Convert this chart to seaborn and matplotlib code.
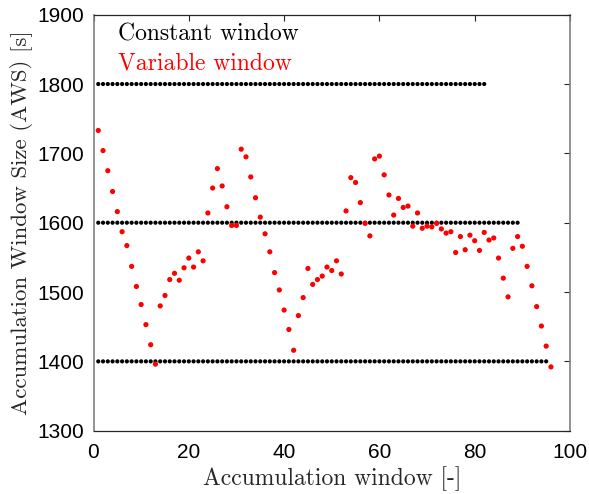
import numpy as np
import pandas as pd
import matplotlib
matplotlib.use("Agg")
import matplotlib.pyplot as plt
import seaborn as sns

# ---- data ----
const_levels = [1800, 1600, 1400]
const_lengths = [82, 89, 95]
variable_values = [
    1733, 1704, 1675, 1645, 1616, 1587, 1567, 1537, 1508, 1482,
    1453, 1424, 1396, 1480, 1495, 1518, 1527, 1517, 1535, 1549,
    1536, 1558, 1545, 1614, 1650, 1678, 1653, 1623, 1596, 1596,
    1706, 1695, 1666, 1636, 1608, 1584, 1558, 1528, 1503, 1474,
    1446, 1416, 1466, 1492, 1534, 1511, 1518, 1523, 1536, 1531,
    1545, 1526, 1617, 1665, 1658, 1629, 1599, 1581, 1692, 1696,
    1669, 1640, 1611, 1635, 1622, 1624, 1595, 1614, 1592, 1595,
    1594, 1599, 1591, 1585, 1587, 1557, 1580, 1561, 1582, 1574,
    1560, 1586, 1575, 1578, 1549, 1520, 1493, 1563, 1580, 1566,
    1537, 1509, 1479, 1451, 1422, 1392,
]
x_ticks = [0, 20, 40, 60, 80, 100]
y_ticks = [1300, 1400, 1500, 1600, 1700, 1800, 1900]

rows = []
for lvl, n in zip(const_levels, const_lengths):
    for i in range(1, n + 1):
        rows.append({"x": i, "y": lvl, "kind": "Constant"})
const_df = pd.DataFrame(rows)
var_df = pd.DataFrame({"x": np.arange(1, len(variable_values) + 1),
                       "y": variable_values, "kind": "Variable"})

sns.set_style("white")
plt.rcParams["font.family"] = ["Liberation Sans", "DejaVu Sans"]

fig = plt.figure(figsize=(5.89, 4.94), dpi=100)
ax = fig.add_axes([93.5 / 589, 1 - 430.7 / 494, 476.5 / 589, 416 / 494])

sns.scatterplot(data=const_df, x="x", y="y", color="black", s=9,
                edgecolor="none", linewidth=0, ax=ax, legend=False)
sns.scatterplot(data=var_df, x="x", y="y", color="#ff0000", s=14,
                edgecolor="none", linewidth=0, ax=ax, legend=False)

ax.set_xlim(0, 100)
ax.set_ylim(1300, 1900)
ax.set_xticks(x_ticks)
ax.set_yticks(y_ticks)
ax.tick_params(direction="in", length=4, width=0.8, top=True, right=True,
               labelsize=15, colors="#000000", pad=7)
ax.tick_params(axis="x", pad=9)
ax.tick_params(axis="both", which="both", color="#262626")

for side in ["top", "bottom"]:
    ax.spines[side].set_color("#262626")
    ax.spines[side].set_linewidth(0.9)
for side in ["left", "right"]:
    ax.spines[side].set_color("#808080")
    ax.spines[side].set_linewidth(1.2)

ax.set_xlabel("Accumulation window [-]", family="cmr10", size=17, labelpad=3)
ax.set_ylabel("Accumulation Window Size (AWS) [s]", family="cmr10", size=16.5,
              labelpad=3)

ax.text(0.051, 0.952, "Constant window", transform=ax.transAxes,
        color="black", va="center", ha="left", family="cmr10", size=17)
ax.text(0.051, 0.884, "Variable window", transform=ax.transAxes,
        color="#ff0000", va="center", ha="left", family="cmr10", size=17)

fig.savefig("out.png", dpi=100)
